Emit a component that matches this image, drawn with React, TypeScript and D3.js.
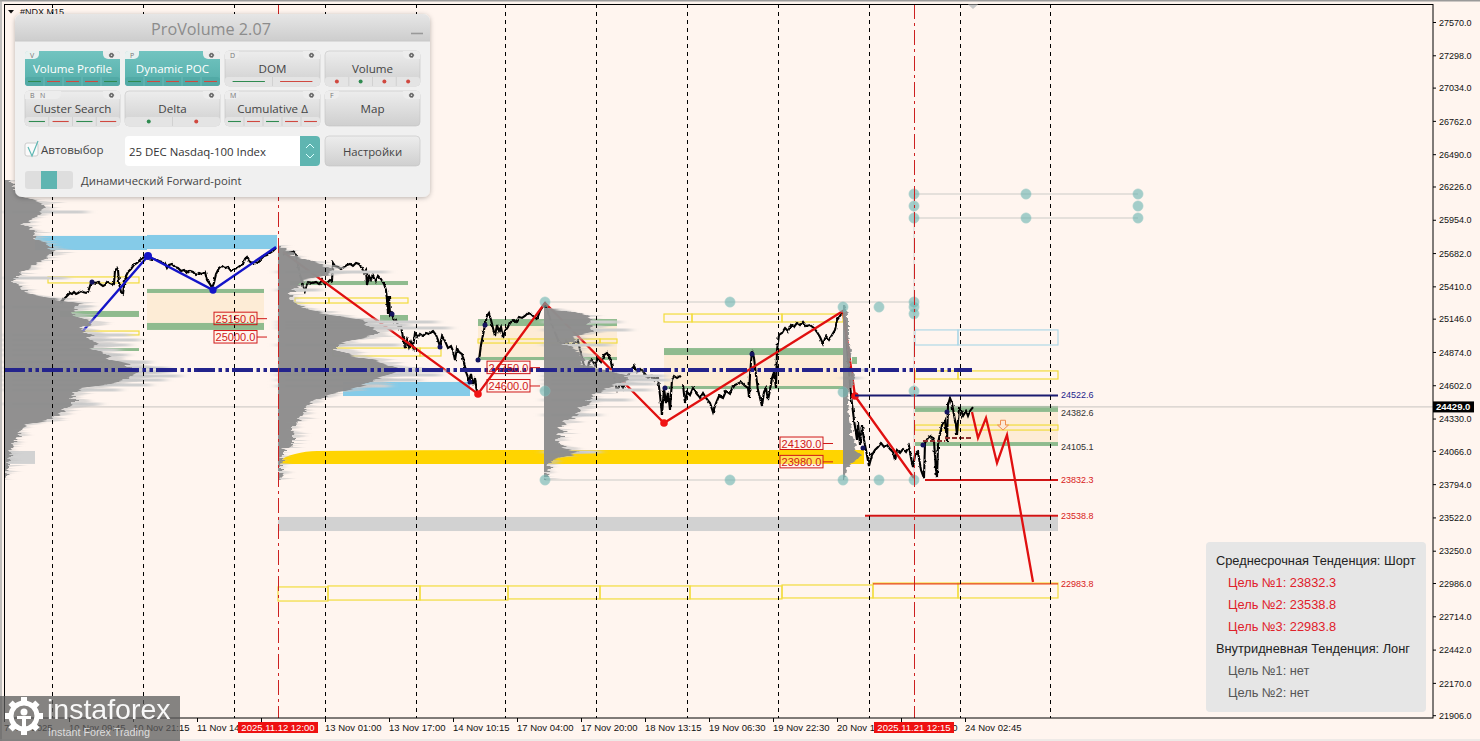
import React from "react";
import * as d3 from "d3";

const symbolTitle = "#NDX,M15";
const yTicks = [27570,27298,27034,26762,26490,26226,25954,25682,25410,25146,24874,24602,24330,24066,23794,23522,23250,22986,22714,22442,22170,21906];
const timeTickBars = [4,69,133,197,261,325,389,453,517,581,645,709,773,837,901,965];
const timeTickLabels = ["7 Nov 2025","10 Nov 09:45","10 Nov 21:15","11 Nov 14:30","","13 Nov 01:00","13 Nov 17:00","14 Nov 10:15","17 Nov 04:00","17 Nov 20:00","18 Nov 13:15","19 Nov 06:30","19 Nov 22:30","20 Nov 14:30","21 Nov 07:30","24 Nov 02:45"];
const sessionBars = [52,143,234,325,416,505,596,687,778,869,960,1050];
const cycleMarkers = [{bar:278,label:"2025.11.12 12:00"},{bar:914,label:"2025.11.21 12:15"}];
const bidPrice = 24429;

// black price path [bar, price]
const priceA: [number,number][] = [[61,25270],[63,25303],[65,25319],[68,25343],[70,25360],[72,25352],[74,25368],[76,25352],[78,25360],[81,25376],[83,25368],[86,25360],[88,25368],[90,25417],[91,25442],[93,25450],[96,25442],[98,25450],[100,25433],[103,25417],[105,25425],[107,25450],[110,25433],[112,25425],[114,25442],[115,25540],[117,25564],[118,25548],[119,25442],[121,25368],[123,25352],[124,25425],[126,25499],[128,25532],[131,25556],[134,25589],[137,25605],[140,25630],[143,25646],[146,25662],[149,25646],[152,25638],[155,25638],[159,25621],[162,25613],[165,25605],[167,25564],[169,25589],[172,25597],[175,25572],[178,25564],[181,25540],[184,25548],[187,25523],[190,25540],[193,25532],[196,25507],[199,25523],[202,25515],[205,25532],[207,25466],[210,25433],[212,25401],[214,25442],[216,25515],[219,25564],[222,25581],[225,25564],[228,25572],[231,25540],[234,25556],[237,25564],[240,25581],[243,25597],[245,25638],[247,25654],[249,25621],[252,25605],[255,25613],[258,25605],[261,25638],[264,25662],[267,25670],[270,25687],[273,25703],[276,25727]];
const priceB: [number,number][] = [[283,25670],[287,25687],[293,25695],[296,25670],[300,25507],[303,25425],[305,25376],[308,25450],[312,25442],[316,25450],[319,25433],[322,25466],[325,25433],[327,25442],[330,25466],[332,25458],[333,25605],[335,25580],[338,25572],[341,25556],[344,25572],[347,25589],[350,25597],[353,25581],[356,25605],[359,25597],[362,25564],[364,25523],[366,25548],[367,25425],[369,25499],[371,25466],[373,25507],[376,25458],[378,25499],[381,25474],[384,25433],[386,25384],[387,25303],[388,25188],[389,25335],[390,25180],[392,25196],[394,25123],[396,25139],[399,25074],[401,25090],[403,24992],[405,24910],[407,24976],[409,24918],[411,24960],[413,24918],[415,25033],[418,25000],[420,25025],[423,25008],[426,25033],[429,25025],[433,25049],[436,25017],[438,24976],[440,24918],[442,25008],[445,24967],[448,24910],[451,24926],[453,24886],[455,24812],[457,24910],[459,24878],[462,24861],[464,24796],[466,24714],[469,24649],[471,24698],[473,24608],[475,24665],[477,24551]];
const priceC: [number,number][] = [[479,24812],[481,24935],[483,25017],[485,25098],[487,25172],[489,25196],[491,25139],[493,25074],[495,25008],[497,25098],[499,25049],[501,25082],[503,24992],[505,25049],[508,25082],[510,25123],[513,25139],[516,25123],[519,25164],[522,25156],[525,25172],[528,25196],[531,25188],[534,25164],[537,25147],[540,25213],[545,25278],[552,25098],[558,24976],[563,24935],[566,24967],[570,24926],[574,24951],[578,24967],[580,24894],[582,24829],[585,24731],[587,24714],[589,24796],[592,24812],[595,24771],[598,24829],[601,24796],[604,24853],[607,24870],[610,24829],[612,24755],[614,24682],[617,24551],[620,24625],[623,24584],[626,24665],[630,24714],[634,24763],[637,24714],[641,24739],[645,24698],[648,24665],[651,24682],[655,24649],[658,24665],[660,24526],[662,24363],[664,24584],[666,24461],[668,24551],[670,24404],[672,24649],[674,24682],[677,24665],[680,24682]];
const priceD: [number,number][] = [[683,24608],[685,24461],[687,24551],[690,24526],[693,24584],[696,24543],[700,24502],[703,24543],[706,24502],[710,24461],[713,24387],[716,24461],[719,24518],[723,24502],[726,24559],[730,24535],[733,24600],[737,24616],[741,24633],[745,24600],[748,24584],[749,24502],[750,24690],[752,24894],[754,24829],[756,24690],[758,24567],[760,24502],[762,24437],[764,24551],[766,24584],[768,24486],[770,24567],[772,24665],[774,24714],[776,24584],[777,24894],[779,25017],[782,25033],[785,25074],[788,25049],[791,25098],[794,25082],[797,25115],[800,25098],[803,25123],[806,25090],[810,25098],[814,25074],[817,25041],[820,25000],[823,24943],[826,25008],[829,24976],[832,25017],[835,25058],[837,25139],[840,25172],[843,25204]];
const priceE: [number,number][] = [[845,25139],[848,24812],[851,24526],[854,24322],[857,24159],[858,24306],[860,24118],[862,24281],[864,24159],[866,24077],[869,23946],[872,24036],[875,24077],[878,24102],[881,24134],[884,24102],[887,24118],[890,24085],[893,24061],[895,23995],[897,24077],[900,24053],[903,24085],[906,24061],[909,24110],[911,24012],[913,23938],[915,24036],[918,24061],[921,23913],[924,23848],[925,24134],[928,24175],[931,24192],[934,24151],[936,23913],[937,23856],[938,24118],[940,24208],[942,24281],[945,24322],[947,24143],[948,24445],[950,24502],[952,24461],[954,24363],[956,24281],[957,24200],[959,24420],[961,24404],[963,24355],[966,24396],[968,24355],[970,24396],[973,24428]];
const pricePivots: [number,number][] = [[92,25450],[392,25188],[440,24918],[470,24633],[478,24812],[485,25098],[665,24584],[752,24862],[863,24094],[923,24118],[947,24388]];

const blueWave: [number,number][] = [[82,25041],[148,25662],[213,25384],[276,25736]];
const redWave: [number,number][] = [[283,25695],[478,24535],[545,25278],[664,24297],[843,25213],[855,24518],[914,23848]];
const forecastWave: [number,number][] = [[972,24388],[978,24175],[986,24339],[997,23971],[1007,24200],[1033,22998]];
const redNodes: [number,number][] = [[478,24535],[664,24297],[855,24518]];
const blueNodes: [number,number][] = [[148,25662],[213,25384]];

// zones [barStart, barEnd, priceTop, priceBottom]
const skyZones: [number,number,number,number][] = [[35,147,25826,25711],[147,277,25834,25719],[343,470,24633,24518]];
const greenZones: [number,number,number,number][] = [[60,139,25213,25164],[70,139,24910,24886],[147,264,25393,25360],[147,264,25115,25058],[290,408,25458,25425],[380,408,25180,25123],[478,617,25147,25090],[478,617,24837,24812],[664,843,24910,24853],[664,843,24600,24575],[852,857,24837,24780],[915,1058,24437,24388],[915,1058,24142,24110]];
const sandZones: [number,number,number,number][] = [[147,264,25360,25115],[478,617,25090,24837],[664,843,24853,24600],[915,1058,24388,24142]];
const yellowBoxes: [number,number,number,number][] = [[48,139,25491,25442],[83,139,25049,25017],[295,329,25319,25278],[329,408,25319,25278],[333,420,24910,24845],[420,441,24910,24845],[478,509,24984,24951],[509,600,24984,24951],[600,617,24984,24951],[664,692,25188,25123],[692,782,25188,25123],[782,843,25188,25123],[915,958,24281,24240],[958,1058,24281,24240],[915,958,24723,24657],[958,1058,24723,24657],[278,328,22958,22843],[328,420,22966,22851],[420,508,22966,22851],[508,600,22966,22860],[600,690,22966,22860],[690,782,22966,22860],[782,873,22974,22868],[873,958,22990,22868],[958,1058,22990,22868]];
const azureBoxes: [number,number,number,number][] = [[915,958,25058,24935],[958,1058,25058,24935]];
const silverZones: [number,number,number,number][] = [[7,35,24069,23963],[278,1058,23530,23415]];
const goldBars = [280,284,295,317,500,864];
const goldTops = [23975,24012,24045,24069,24077,24077];
const goldBottom = 23963;

// horizontal levels [barStart, barEnd, price]
const navyLevel: [number,number,number] = [855,1058,24522.6];
const redLevels: [number,number,number][] = [[925,1058,23832.3],[865,1058,23538.8]];
const thinRedLevel: [number,number,number] = [873,1058,22983.8];
const rightLevelPrices = [24522.6,24382.6,24105.1,23832.3,23538.8,22983.8];
const rightLevelTexts = ["24522.6","24382.6","24105.1","23832.3","23538.8","22983.8"];
const pocLevel: [number,number,number] = [4,972,24730];
const darkDashes: [number,number,number][] = [[923,945,24150],[945,973,24175]];
const handleLines: [number,number,number][] = [[545,914,25286],[545,914,23832],[914,1138,26169],[914,1138,25973]];
const handleDots: [number,number][] = [[545,25286],[730,25286],[843,25245],[879,25245],[914,25286],[914,25245],[914,25190],[545,24559],[843,24551],[914,24559],[545,23832],[730,23832],[843,23832],[879,23832],[914,23832],[914,26169],[1026,26169],[1138,26169],[914,26071],[1138,26071],[914,25973],[1026,25973],[1138,25973]];
const handleBar = 914;
const handleSpan: [number,number] = [26169,23832];

const tagPrices = [25150,25000,24750,24600,24130,23980];
const tagBars = [214,214,487,487,780,780];

// volume profiles: ladder start price, ladder step, base bar, volumes
const profile1Volumes = [5,7,10,13,17,28,38,41,35,31,25,19,25,31,30,32,43,45,50,45,37,30,25,17,13,9,12,17,20,35,55,75,73,67,69,80,83,77,81,87,83,90,85,95,100,107,123,125,130,123,120,105,80,73,68,67,67,61,57,50,45,25,17,15,13,11,9,7,6,5,4,3,3,2,1,0];
const profile2Volumes = [2,7,15,30,45,55,50,25,20,15,12,15,20,32,55,85,90,98,95,75,60,60,72,95,110,122,110,95,85,68,50,38,30,26,24,20,15,15,14,14,14,5,5,4,3,3,5,0];
const profile3Volumes = [3,30,42,48,44,48,50,36,30,20,28,36,38,40,42,50,70,84,86,75,65,55,50,46,42,36,34,30,24,20,14,20,16,14,15,22,36,22,8,6,5,4,3,2];
const profile4Volumes = [2,4,5,5,5,5,5,6,6,8,7,7,6,9,12,10,9,6,5,6,6,5,6,6,7,8,8,10,14,11,18,14,6,3,2,1];
const profileLadders = [
  {base:5,top:26283,step:32.68,volumes:profile1Volumes,jag:"edgeJag"},
  {base:278,top:25752,step:40.86,volumes:profile2Volumes,jag:"edgeJag"},
  {base:544,top:25237,step:32.68,volumes:profile3Volumes,jag:"edgeJag"},
  {base:843,top:25262,step:40.86,volumes:profile4Volumes,jag:"edgeJagFine"},
];
const streakPrices1 = [26022,25482,25246,25017,24976,24935,24894,24853,24796,24747,24714,24682,24649,24608,24567,24453];
const streakVolumes1 = [82,62,85,125,135,125,115,123,145,162,165,175,160,145,115,95];
const streakPrices2 = [25532,25384,25123,25098,25074,24935,24723,24690,24649,24600];
const streakVolumes2 = [109,42,159,132,172,122,169,162,142,112];
const streakPrices3 = [25123,25058,24935,24714,24682,24649,24616,24567,24486,24363,24061];
const streakVolumes3 = [76,86,66,96,121,126,111,106,86,56,56];
const streakPrices4 = [24731,24665];
const streakVolumes4 = [27,17];

const panelRow1 = [
  {name:"Volume Profile",keys:"V",on:true,marks:"grrrg".split(""),dots:false},
  {name:"Dynamic POC",keys:"P",on:true,marks:"grrrr".split(""),dots:false},
  {name:"DOM",keys:"D",on:false,marks:"gr".split(""),dots:false},
  {name:"Volume",keys:"",on:false,marks:"rgrr".split(""),dots:true},
];
const panelRow2 = [
  {name:"Cluster Search",keys:"B N",on:false,marks:"grgr".split(""),dots:false},
  {name:"Delta",keys:"",on:false,marks:"gr".split(""),dots:true},
  {name:"Cumulative Δ",keys:"M",on:false,marks:"grgrr".split(""),dots:false},
  {name:"Map",keys:"F",on:false,marks:[] as string[],dots:false},
];
const infoLines = [
  {t:"Среднесрочная Тенденция: Шорт",k:"h"},
  {t:"Цель №1: 23832.3",k:"r"},
  {t:"Цель №2: 23538.8",k:"r"},
  {t:"Цель №3: 22983.8",k:"r"},
  {t:"Внутридневная Тенденция: Лонг",k:"h"},
  {t:"Цель №1: нет",k:"g"},
  {t:"Цель №2: нет",k:"g"},
];

const BG = "#fff5ef";
const SANS = "'Liberation Sans', Arial, sans-serif";
const UI = "'Open Sans', 'Noto Sans', sans-serif";

const x = d3.scaleLinear([0,1433],[0,1433]);
const y = d3.scaleLinear([27570,21906],[22.5,715.7]);
const line = d3.line<[number,number]>().x(d=>x(d[0])).y(d=>y(d[1]));
const box = (z:[number,number,number,number]) => ({x:x(z[0]),y:y(z[2]),width:x(z[1])-x(z[0]),height:y(z[3])-y(z[2])});

function Panel() {
  const W = 95, H = 35;
  const colX = [25,125,225,325];
  const button = (b:any,bx:number,by:number) => {
    const strip = b.marks.length>0;
    const n = b.marks.length||1;
    return (
      <g key={b.name} transform={`translate(${bx},${by})`}>
        <rect width={W} height={H} rx={4} fill={b.on?"url(#tealGrad)":"url(#greyGrad)"} stroke={b.on?"none":"#c4c4c4"} strokeWidth={0.6}/>
        {strip && <rect y={H-9} width={W} height={9} rx={3} fill={b.on?"#52aaa6":"#e4e4e4"}/>}
        {strip && d3.range(1,n).map(i=><line key={i} x1={W/n*i} x2={W/n*i} y1={H-9} y2={H} stroke={b.on?"#76c2be":"#c8c8c8"} strokeWidth={0.7}/>)}
        {b.keys && <path d={`M0,8 V3 a3,3 0 0 1 3,-3 H${b.keys.length>1?36:14} V3 a5,5 0 0 1 -5,5 Z`} fill={b.on?"#e9f1f0":"#ededed"}/>}
        {b.keys && <text x={5} y={6.5} fontFamily={UI} fontSize={7} fill="#777" xmlSpace="preserve">{b.keys.replace(" ","   ")}</text>}
        <path d={`M${W},8 V3 a3,3 0 0 0 -3,-3 H${W-17} V3 a5,5 0 0 0 5,5 Z`} fill="#ededed"/>
        <circle cx={W-8.5} cy={4.3} r={2.2} fill="#666" stroke="#666" strokeWidth={0.8} strokeDasharray="1 0.6"/>
        <circle cx={W-8.5} cy={4.3} r={0.8} fill="#ededed"/>
        <text x={W/2} y={22} textAnchor="middle" fontFamily={UI} fontSize={11.6} fill={b.on?"#fff":"#444"}>{b.name}</text>
        {b.marks.map((m:string,i:number)=>{
          const seg = W/n; const cx = seg*i+seg/2;
          const col = m==="g"?"#2f8a50":"#d0483f";
          return b.dots
            ? <circle key={i} cx={cx} cy={H-4.5} r={2} fill={col}/>
            : <line key={i} x1={cx-seg*0.34} x2={cx+seg*0.34} y1={H-4.5} y2={H-4.5} stroke={col} strokeWidth={1.1}/>;
        })}
      </g>
    );
  };
  return (
    <g>
      <rect x={15} y={14} width={415} height={183} rx={7} fill="#f0f0f0" filter="url(#panelShadow)"/>
      <path d="M15,41 V21 a7,7 0 0 1 7,-7 H423 a7,7 0 0 1 7,7 V41 Z" fill="url(#titleGrad)"/>
      <line x1={15} x2={430} y1={41} y2={41} stroke="#c8c8c8"/>
      <text x={211} y={35} textAnchor="middle" fontFamily={UI} fontSize={16.2} fill="#8c8c8c">ProVolume 2.07</text>
      <line x1={411} x2={423} y1={33.5} y2={33.5} stroke="#999" strokeWidth={1.6}/>
      {panelRow1.map((b,i)=>button(b,colX[i],51))}
      {panelRow2.map((b,i)=>button(b,colX[i],91))}
      <rect x={25} y={143} width={13} height={13} rx={2} fill="#fafafa" stroke="#ccc"/>
      <path d="M28,147 L32,156 L38,141" fill="none" stroke="#5fb8b4" strokeWidth={1.2}/>
      <text x={41} y={154} fontFamily={UI} fontSize={11.5} fill="#444">Автовыбор</text>
      <rect x={125} y={136} width={195} height={30} rx={4} fill="#fff"/>
      <path d="M300,136 H316 a4,4 0 0 1 4,4 V162 a4,4 0 0 1 -4,4 H300 Z" fill="#5fb5b1"/>
      <path d="M306,148 L310,144 L314,148 M306,154 L310,158 L314,154" fill="none" stroke="#dff" strokeWidth={1}/>
      <text x={129} y={156} fontFamily={UI} fontSize={11.4} fill="#333">25 DEC Nasdaq-100 Index</text>
      <rect x={325} y={136} width={95} height={30} rx={4} fill="url(#greyGrad)" stroke="#c4c4c4" strokeWidth={0.6}/>
      <text x={372.5} y={156} textAnchor="middle" fontFamily={UI} fontSize={11.3} fill="#444">Настройки</text>
      <rect x={25} y={171} width={48} height={18} rx={3} fill="#dedede"/>
      <rect x={41} y={171} width={16} height={18} fill="#5fb5b1"/>
      <text x={81} y={185} fontFamily={UI} fontSize={11.3} fill="#444">Динамический Forward-point</text>
    </g>
  );
}

function Logo() {
  const teeth = d3.range(8).map(i=>i*45);
  return (
    <g>
      <rect x={0} y={696} width={180} height={45} fill="#5c5c5c" opacity={0.75}/>
      <g transform="translate(24,716)" fill="#fff">
        <circle r={13} fill="none" stroke="#fff" strokeWidth={5}/>
        {teeth.map(a=><rect key={a} x={-3} y={-19} width={6} height={6} transform={`rotate(${a})`}/>)}
        <circle cy={-4} r={3.5}/>
        <rect x={-7} y={0} width={14} height={3}/>
        <rect x={-2} y={2} width={4} height={10}/>
      </g>
      <text x={47} y={719} fontFamily={SANS} fontSize={28.5} fill="#fff" opacity={0.95}>instaforex</text>
      <text x={48} y={736} fontFamily={SANS} fontSize={10.8} fill="#ddd">Instant Forex Trading</text>
    </g>
  );
}

export default function App() {
  const streaks = [
    {base:5,p:streakPrices1,v:streakVolumes1},{base:278,p:streakPrices2,v:streakVolumes2},
    {base:544,p:streakPrices3,v:streakVolumes3},{base:843,p:streakPrices4,v:streakVolumes4},
  ];
  const gold = d3.area<number>().x(b=>x(b)).y0(y(goldBottom)).y1((b,i)=>y(goldTops[i])).curve(d3.curveMonotoneX)(goldBars);
  const yBid = y(bidPrice);
  return (
    <svg width={1480} height={741} style={{position:"fixed",left:0,top:0,display:"block",background:BG}}>
      <defs>
        <linearGradient id="tealGrad" x1="0" x2="0" y1="0" y2="1"><stop offset="0" stopColor="#72c4c0"/><stop offset="1" stopColor="#55aeaa"/></linearGradient>
        <linearGradient id="greyGrad" x1="0" x2="0" y1="0" y2="1"><stop offset="0" stopColor="#ededed"/><stop offset="1" stopColor="#cfcfcf"/></linearGradient>
        <linearGradient id="titleGrad" x1="0" x2="0" y1="0" y2="1"><stop offset="0" stopColor="#e6e6e6"/><stop offset="1" stopColor="#cdcdcd"/></linearGradient>
        <filter id="panelShadow" x="-5%" y="-5%" width="110%" height="115%"><feDropShadow dx="0" dy="1" stdDeviation="2.5" floodColor="#000" floodOpacity="0.28"/></filter>
        <filter id="edgeJag" filterUnits="userSpaceOnUse" x="0" y="0" width="1480" height="741" colorInterpolationFilters="sRGB">
          <feTurbulence type="fractalNoise" baseFrequency="0.004 0.42" numOctaves="2" seed="4" result="n"/>
          <feColorMatrix in="n" type="matrix" values="1 0 0 0 0  0 0 0 0 0.5  0 0 0 0 0  0 0 0 0 1" result="nx"/>
          <feDisplacementMap in="SourceGraphic" in2="nx" scale="18" xChannelSelector="R" yChannelSelector="G"/>
        </filter>
        <filter id="edgeJagFine" filterUnits="userSpaceOnUse" x="0" y="0" width="1480" height="741" colorInterpolationFilters="sRGB">
          <feTurbulence type="fractalNoise" baseFrequency="0.004 0.42" numOctaves="2" seed="4" result="n"/>
          <feColorMatrix in="n" type="matrix" values="1 0 0 0 0  0 0 0 0 0.5  0 0 0 0 0  0 0 0 0 1" result="nx"/>
          <feDisplacementMap in="SourceGraphic" in2="nx" scale="6" xChannelSelector="R" yChannelSelector="G"/>
        </filter>
        <filter id="edgeJagSoft" filterUnits="userSpaceOnUse" x="0" y="0" width="1480" height="741" colorInterpolationFilters="sRGB">
          <feTurbulence type="fractalNoise" baseFrequency="0.004 0.55" numOctaves="2" seed="9" result="n"/>
          <feColorMatrix in="n" type="matrix" values="1 0 0 0 0  0 0 0 0 0.5  0 0 0 0 0  0 0 0 0 1" result="nx"/>
          <feDisplacementMap in="SourceGraphic" in2="nx" scale="40" xChannelSelector="R" yChannelSelector="G" result="d"/>
          <feGaussianBlur in="d" stdDeviation="3 0.3"/>
        </filter>
        <filter id="priceRough" filterUnits="userSpaceOnUse" x="0" y="0" width="1480" height="741" colorInterpolationFilters="sRGB">
          <feTurbulence type="fractalNoise" baseFrequency="0.3" numOctaves="1" seed="2" result="n"/>
          <feDisplacementMap in="SourceGraphic" in2="n" scale="3" xChannelSelector="R" yChannelSelector="G"/>
        </filter>
        <filter id="streakSoft" filterUnits="userSpaceOnUse" x="0" y="0" width="1480" height="741"><feGaussianBlur stdDeviation="5 0.5"/></filter>
        {profileLadders.map((p,k)=><clipPath key={k} id={`prof${k}`}><rect x={x(p.base)} y={0} width={1433} height={741}/></clipPath>)}
      </defs>

      {skyZones.map((z,i)=><rect key={i} {...box(z)} fill="#85cbe8"/>)}
      {sandZones.map((z,i)=><rect key={i} {...box(z)} fill="#fdecd6"/>)}
      {greenZones.map((z,i)=><rect key={i} {...box(z)} fill="#8fbb8e"/>)}
      {silverZones.map((z,i)=><rect key={i} {...box(z)} fill="#d2d2d2"/>)}
      <path d={gold||""} fill="#ffd400"/>
      {yellowBoxes.map((z,i)=><rect key={i} {...box(z)} fill="none" stroke="#f2dc3c" strokeWidth={1.2}/>)}
      {azureBoxes.map((z,i)=><rect key={i} {...box(z)} fill="none" stroke="#a9d6e6" strokeWidth={1.1}/>)}

      {handleLines.map((l,i)=><line key={i} x1={x(l[0])} x2={x(l[1])} y1={y(l[2])} y2={y(l[2])} stroke="#dcd8d4" strokeWidth={1.5}/>)}
      <line x1={x(handleBar)} x2={x(handleBar)} y1={y(handleSpan[0])} y2={y(handleSpan[1])} stroke="#dcd8d4" strokeWidth={1.2}/>
      <line x1={x(4)} x2={x(1433)} y1={yBid} y2={yBid} stroke="#c8c4c0" strokeWidth={1}/>

      <g filter="url(#priceRough)">
        <path d={line(priceA)||""} fill="none" stroke="#000" strokeWidth={2.1}/>
        <path d={line(priceB)||""} fill="none" stroke="#000" strokeWidth={2.1}/>
        <path d={line(priceC)||""} fill="none" stroke="#000" strokeWidth={2.1}/>
        <path d={line(priceD)||""} fill="none" stroke="#000" strokeWidth={2.1}/>
        <path d={line(priceE)||""} fill="none" stroke="#000" strokeWidth={2.1}/>
      </g>
      {darkDashes.map((l,i)=><line key={i} x1={x(l[0])} x2={x(l[1])} y1={y(l[2])} y2={y(l[2])} stroke="#8e3030" strokeWidth={2} strokeDasharray="5 2"/>)}
      {pricePivots.map((p,i)=><circle key={i} cx={x(p[0])} cy={y(p[1])} r={2.5} fill="#14145e"/>)}

      <path d={line(blueWave)||""} fill="none" stroke="#1414c8" strokeWidth={2.4}/>
      {blueNodes.map((p,i)=><circle key={i} cx={x(p[0])} cy={y(p[1])} r={i===0?4:3.6} fill="#1414c8"/>)}
      <path d={line(redWave)||""} fill="none" stroke="#e01010" strokeWidth={2.3}/>
      {redNodes.map((p,i)=><circle key={i} cx={x(p[0])} cy={y(p[1])} r={3.8} fill="#f01414"/>)}

      <line x1={x(navyLevel[0])} x2={x(navyLevel[1])} y1={y(navyLevel[2])} y2={y(navyLevel[2])} stroke="#1b1b70" strokeWidth={2}/>
      {redLevels.map((l,i)=><line key={i} x1={x(l[0])} x2={x(l[1])} y1={y(l[2])} y2={y(l[2])} stroke="#d01414" strokeWidth={2}/>)}
      <line x1={x(thinRedLevel[0])} x2={x(thinRedLevel[1])} y1={y(thinRedLevel[2])} y2={y(thinRedLevel[2])} stroke="#e8441a" strokeWidth={1.2}/>
      <path d={line(forecastWave)||""} fill="none" stroke="#e01010" strokeWidth={2.3}/>

      <g filter="url(#streakSoft)">
        {streaks.map((s,k)=>s.p.map((p,i)=>(
          <line key={`${k}-${i}`} x1={x(s.base)} x2={x(s.base+s.v[i])} y1={y(p)} y2={y(p)} stroke="#cfcfcf" strokeWidth={3}/>
        )))}
      </g>
      {profileLadders.map((pr,k)=>{
        const area = d3.area<number>().y((v,i)=>y(pr.top-i*pr.step)).x0(x(pr.base)-30).x1(v=>x(pr.base+v));
        const soft = d3.area<number>().y((v,i)=>y(pr.top-i*pr.step)).x0(x(pr.base)-30).x1(v=>x(pr.base+v*1.14+2));
        return (
          <g key={k} clipPath={`url(#prof${k})`}>
            {k<3 && <g filter="url(#edgeJagSoft)"><path d={soft(pr.volumes)||""} fill="#c4c4c4" opacity={0.6}/></g>}
            <g filter={`url(#${pr.jag})`}><path d={area(pr.volumes)||""} fill="#8c8c8c" opacity={0.95}/></g>
          </g>
        );
      })}
      <line x1={x(pocLevel[0])} x2={x(pocLevel[1])} y1={y(pocLevel[2])} y2={y(pocLevel[2])} stroke="#23238c" strokeWidth={4} strokeDasharray="21 3.5 3.5 3.5 3.5 3"/>
      {handleDots.map((d,i)=><circle key={i} cx={x(d[0])} cy={y(d[1])} r={5.2} fill="#6db6b2" opacity={0.62} stroke="#8fc4c0" strokeWidth={0.5}/>)}
      <path d={(()=>{const cx=x(1003),t=y(24320),b=y(24240);return `M${cx-2.5},${t} H${cx+2.5} V${b-5} H${cx+5.5} L${cx},${b} L${cx-5.5},${b-5} H${cx-2.5} Z`;})()} fill="#fde8d4" stroke="#ef8c50" strokeWidth={1}/>

      {sessionBars.map(b=><line key={b} x1={x(b)+0.5} x2={x(b)+0.5} y1={4} y2={718} stroke="#000" strokeWidth={1} strokeDasharray="4 4"/>)}
      {cycleMarkers.map(m=><line key={m.bar} x1={x(m.bar)+0.5} x2={x(m.bar)+0.5} y1={4} y2={718} stroke="#cc2020" strokeWidth={1} strokeDasharray="15 4 3 4"/>)}

      {tagPrices.map((p,i)=>(
        <g key={i}>
          <rect x={x(tagBars[i])} y={y(p)-6.5} width={43} height={12.5} fill={i<4?"none":"#fff5ef"} fillOpacity={0.35} stroke="#d01818" strokeWidth={1}/>
          <line x1={x(tagBars[i])+43} x2={x(tagBars[i])+53} y1={y(p)} y2={y(p)} stroke="#d01818"/>
          <text x={x(tagBars[i])+21.5} y={y(p)+4} textAnchor="middle" fontFamily={SANS} fontSize={11} fill="#d01818">{p.toFixed(1)}</text>
        </g>
      ))}

      {rightLevelPrices.map((p,i)=>(
        <text key={i} x={x(1061)} y={y(p)+3} fontFamily={SANS} fontSize={9} fill={i===0?"#23238c":i<3?"#333":"#d82020"}>{rightLevelTexts[i]}</text>
      ))}

      <rect x={4.5} y={4.5} width={1428.5} height={713.5} fill="none" stroke="#000" strokeWidth={1}/>
      <path d={`M968,4.5 L978,4.5 L973,9 Z`} fill="#c8c8c8"/>
      <line x1={0} x2={1480} y1={0.7} y2={0.7} stroke="#9a9a9a" strokeWidth={1.4}/>
      <line x1={1} x2={1} y1={0} y2={741} stroke="#a8a8a8" strokeWidth={1.4}/>
      <line x1={0} x2={1480} y1={740} y2={740} stroke="#e8e6e4" strokeWidth={1.4}/>
      {yTicks.map(t=>(
        <g key={t}>
          <line x1={1433} x2={1436} y1={y(t)} y2={y(t)} stroke="#000"/>
          <text x={1439} y={y(t)+3.2} fontFamily={SANS} fontSize={9} fill="#111">{t.toFixed(1)}</text>
        </g>
      ))}
      {timeTickBars.map((b,i)=>(
        <g key={b}>
          <line x1={x(b)+0.5} x2={x(b)+0.5} y1={718} y2={722} stroke="#000"/>
          {timeTickLabels[i] && <text x={x(b)} y={731} fontFamily={SANS} fontSize={9.5} fill="#111">{timeTickLabels[i]}</text>}
        </g>
      ))}
      {cycleMarkers.map(m=>(
        <g key={m.label}>
          <rect x={x(m.bar)-40} y={722} width={80} height={11} fill="#ee1111"/>
          <text x={x(m.bar)} y={731} textAnchor="middle" fontFamily={SANS} fontSize={9.5} fill="#fff">{m.label}</text>
        </g>
      ))}
      <rect x={1433} y={yBid-5.5} width={41} height={11} fill="#000"/>
      <text x={1436} y={yBid+3.5} fontFamily={SANS} fontSize={9.5} fontWeight={700} fill="#fff">{bidPrice.toFixed(1)}</text>

      <path d="M8,10 L14,10 L11,13.5 Z" fill="#111"/>
      <text x={20} y={15} fontFamily={SANS} fontSize={9} fill="#111">{symbolTitle}</text>

      <Panel/>

      <rect x={1206} y={542} width={220} height={170} rx={4} fill="#e6e6e6"/>
      {infoLines.map((l,i)=>(
        <text key={i} x={l.k==="h"?1216:1228} y={564.5+i*22} fontFamily={SANS} fontSize={12.8} fill={l.k==="h"?"#222":l.k==="r"?"#e0202a":"#555"}>{l.t}</text>
      ))}
      <Logo/>
    </svg>
  );
}
